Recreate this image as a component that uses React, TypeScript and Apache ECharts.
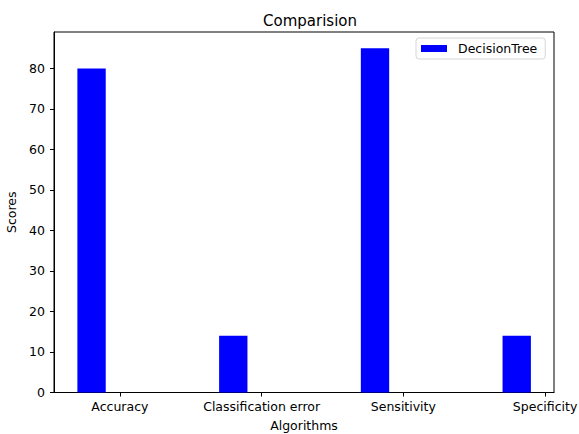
import React, { useEffect, useRef } from "react";
import * as echarts from "echarts";

const categories = ["Accuracy", "Classification error", "Sensitivity", "Specificity"];
const decisionTree = [80, 14, 85, 14];
const yTicks = [0, 10, 20, 30, 40, 50, 60, 70, 80];
const seriesName = "DecisionTree";
const titleText = "Comparision";
const xName = "Algorithms";
const yName = "Scores";

export default function App() {
  const ref = useRef<HTMLDivElement>(null);
  useEffect(() => {
    if (!ref.current) return;
    const chart = echarts.init(ref.current, null, { renderer: "svg" });
    const font = "DejaVu Sans";
    const xTickValues = categories.map((_, i) => i);
    const barOffset = -0.2;
    const barHalf = 0.1;
    chart.setOption({
      animation: false,
      backgroundColor: "#fff",
      textStyle: { fontFamily: font },
      title: {
        text: titleText,
        left: 305,
        textAlign: "center",
        top: 8,
        textStyle: { fontFamily: font, fontSize: 15, fontWeight: "normal", color: "#000" },
      },
      legend: {
        data: [{ name: seriesName, icon: "rect" }],
        left: 416,
        top: 38,
        orient: "vertical",
        padding: [4, 8, 4, 5],
        itemWidth: 26,
        itemHeight: 7,
        borderColor: "#d6d6d6",
        borderWidth: 1,
        borderRadius: 3,
        textStyle: { fontFamily: font, fontSize: 12.5, color: "#000", padding: [0, 0, 0, 6] },
      },
      grid: {
        left: 54,
        right: 25,
        top: 32,
        bottom: 41.5,
        containLabel: false,
        outerBoundsMode: "none",
        show: true,
        borderColor: "#000",
        borderWidth: 1,
        backgroundColor: "transparent",
      },
      xAxis: {
        type: "value",
        min: -0.465,
        max: 3.063,
        name: xName,
        nameLocation: "middle",
        nameGap: 26,
        nameTextStyle: { fontFamily: font, fontSize: 12.5, color: "#000" },
        axisLine: { show: true, onZero: false, lineStyle: { color: "#000", width: 1 } },
        axisTick: { show: true, length: 4, lineStyle: { color: "#000" }, customValues: xTickValues },
        axisLabel: {
          customValues: xTickValues,
          formatter: (v: number) => categories[Math.round(v)] ?? "",
          fontFamily: font,
          fontSize: 12.5,
          color: "#000",
          margin: 7,
          hideOverlap: false,
        },
        splitLine: { show: false },
      },
      yAxis: {
        type: "value",
        min: 0,
        max: 89,
        name: yName,
        nameLocation: "middle",
        nameGap: 31,
        nameTextStyle: { fontFamily: font, fontSize: 12.5, color: "#000" },
        axisLine: { show: true, onZero: false, lineStyle: { color: "#000", width: 1 } },
        axisTick: { show: true, length: 4, lineStyle: { color: "#000" }, customValues: yTicks },
        axisLabel: {
          customValues: yTicks,
          fontFamily: font,
          fontSize: 12.5,
          color: "#000",
          margin: 9,
        },
        splitLine: { show: false },
      },
      series: [
        {
          name: seriesName,
          type: "custom",
          itemStyle: { color: "#0000ff" },
          encode: { x: 0, y: 1 },
          data: decisionTree.map((v, i) => [i + barOffset, v]),
          renderItem: (params: any, api: any) => {
            const x = api.value(0);
            const y = api.value(1);
            const p0 = api.coord([x - barHalf, y]);
            const p1 = api.coord([x + barHalf, 0]);
            return {
              type: "rect",
              shape: { x: p0[0], y: p0[1], width: p1[0] - p0[0], height: p1[1] - p0[1] },
              style: { fill: "#0000ff" },
            };
          },
        },
      ],
    });
    return () => chart.dispose();
  }, []);
  return <div ref={ref} style={{ width: 579, height: 434, position: "absolute", left: 0, top: 0 }} />;
}
